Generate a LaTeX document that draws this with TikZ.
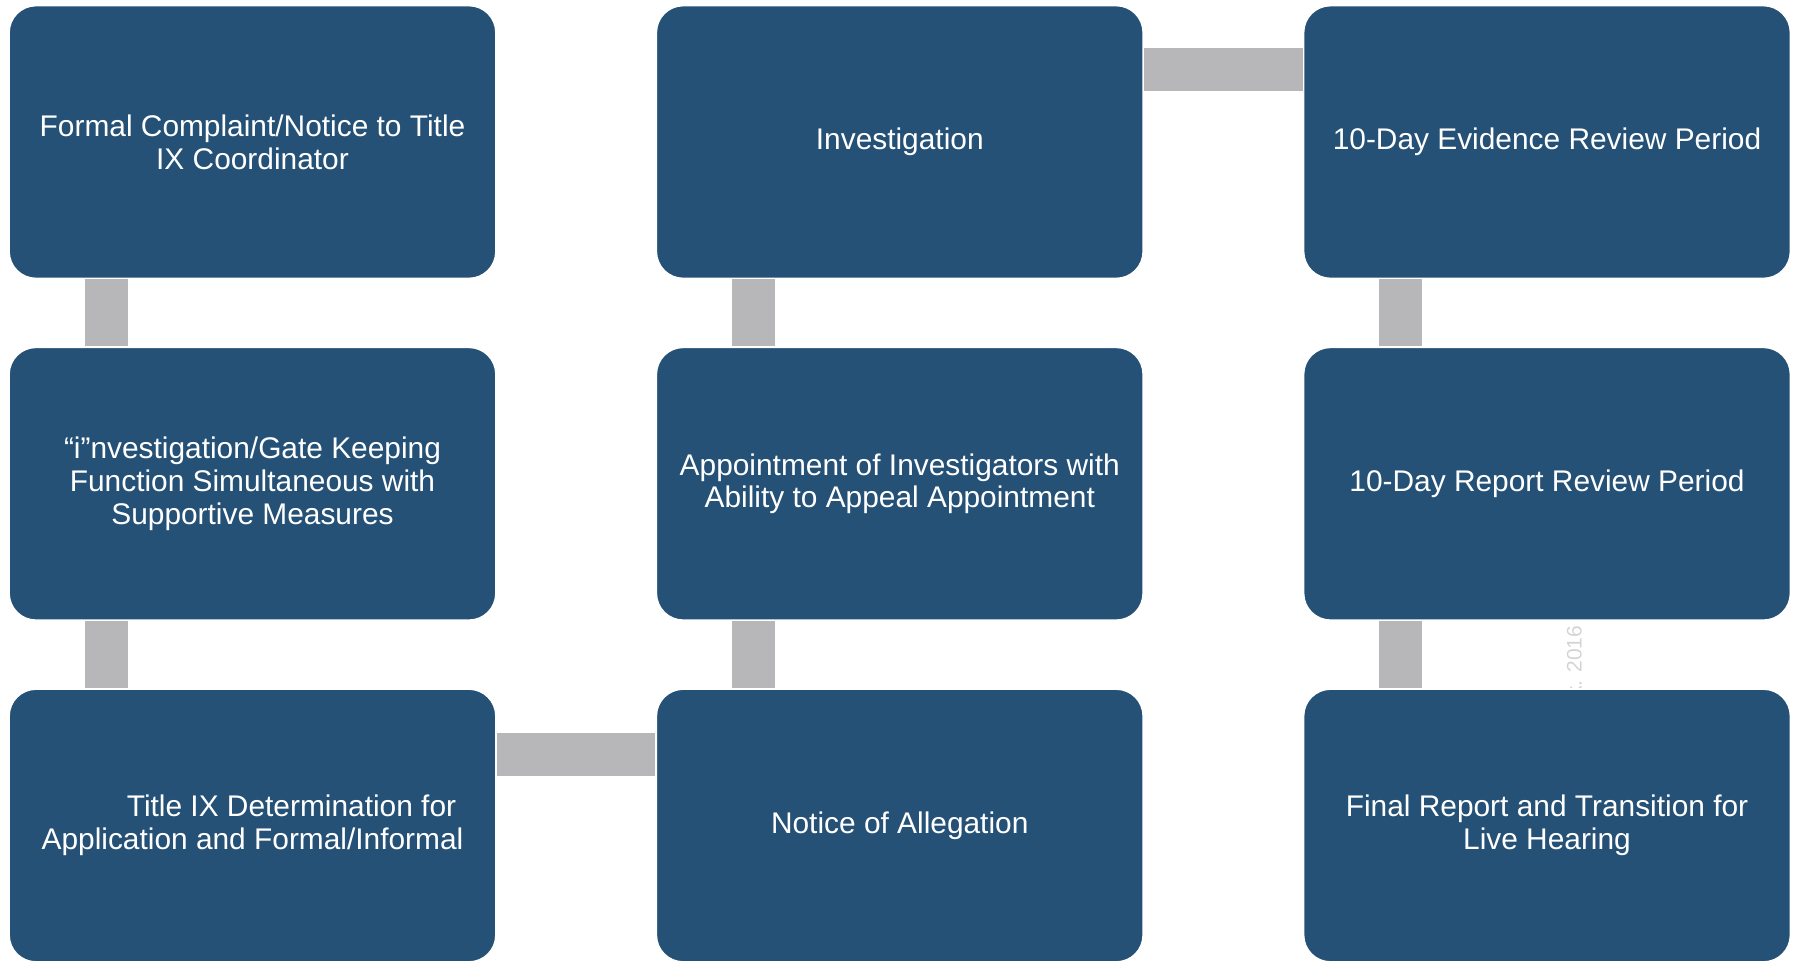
\documentclass[tikz,border=0pt]{standalone}
\usepackage{fontspec}
\setmainfont{Liberation Sans}
\usetikzlibrary{positioning, calc}
\definecolor{boxblue}{RGB}{37, 81, 118}
\definecolor{linkgray}{RGB}{183, 183, 185}
\definecolor{stampgray}{RGB}{212, 212, 212}

\begin{document}
\begin{tikzpicture}[
    node distance=0.67cm and 1.585cm,
    block/.style={rectangle, draw=white, line width=0.5pt, fill=boxblue, text=white, minimum width=4.87cm, minimum height=2.73cm, rounded corners=0.27cm, align=center, font=\fontsize{8.5}{9.3}\selectfont},
    link/.style={draw=linkgray, line width=0.43cm},
    stamp/.style={text=stampgray, inner sep=0pt, font=\fontsize{6}{7}\selectfont}
]

\useasboundingbox (0,0) rectangle (17.95,-9.60);

\node[stamp, rotate=90, anchor=east] (year) at (15.74,-6.25) {k. 2016};

\node[block] (complaint) at (2.525,-1.42) {Formal Complaint/Notice to Title\\IX Coordinator};
\node[block, below=of complaint] (gatekeep) {“i”nvestigation/Gate Keeping\\Function Simultaneous with\\Supportive Measures};
\node[block, below=of gatekeep] (determination) {\hspace*{0.78cm}Title IX Determination for\\Application and Formal/Informal};
\node[block, right=of determination] (allegation) {Notice of Allegation};
\node[block, above=of allegation] (appoint) {Appointment of Investigators with\\Ability to Appeal Appointment};
\node[block, above=of appoint] (investigation) {Investigation};
\node[block, right=of investigation] (evidence) {10-Day Evidence Review Period};
\node[block, below=of evidence] (report) {10-Day Report Review Period};
\node[block, below=of report] (final) {Final Report and Transition for\\Live Hearing};

\draw[link] ($(complaint.south west)+(0.98,0)$) -- ($(gatekeep.north west)+(0.98,0)$);
\draw[link] ($(gatekeep.south west)+(0.98,0)$) -- ($(determination.north west)+(0.98,0)$);
\draw[link] ($(determination.north east)+(0,-0.66)$) -- ($(allegation.north west)+(0,-0.66)$);
\draw[link] ($(allegation.north west)+(0.98,0)$) -- ($(appoint.south west)+(0.98,0)$);
\draw[link] ($(appoint.north west)+(0.98,0)$) -- ($(investigation.south west)+(0.98,0)$);
\draw[link] ($(investigation.north east)+(0,-0.65)$) -- ($(evidence.north west)+(0,-0.65)$);
\draw[link] ($(evidence.south west)+(0.98,0)$) -- ($(report.north west)+(0.98,0)$);
\draw[link] ($(report.south west)+(0.98,0)$) -- ($(final.north west)+(0.98,0)$);

\end{tikzpicture}
\end{document}
